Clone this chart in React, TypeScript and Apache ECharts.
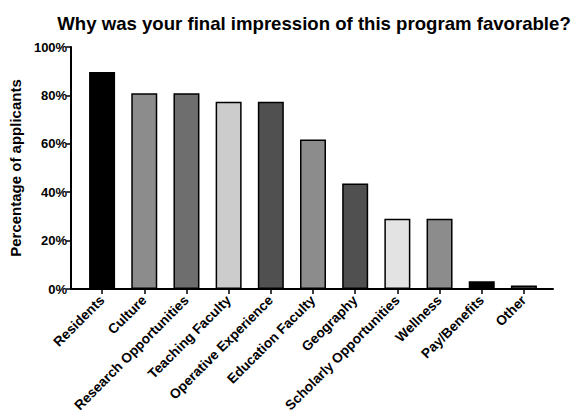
import React, { useEffect, useRef } from "react";
import * as echarts from "echarts";

const categories = [
  "Residents",
  "Culture",
  "Research Opportunities",
  "Teaching Faculty",
  "Operative Experience",
  "Education Faculty",
  "Geography",
  "Scholarly Opportunities",
  "Wellness",
  "Pay/Benefits",
  "Other",
];
const values = [89.7, 80.9, 80.9, 77.4, 77.4, 61.8, 43.6, 29.0, 29.0, 3.2, 1.4];
const barColors = [
  "#000000",
  "#8c8c8c",
  "#6e6e6e",
  "#cccccc",
  "#505050",
  "#8c8c8c",
  "#505050",
  "#e3e3e3",
  "#8c8c8c",
  "#000000",
  "#6e6e6e",
];
const yTicks = [0, 20, 40, 60, 80, 100];

const FONT = "'Liberation Sans', Arial, Helvetica, sans-serif";

export default function App() {
  const ref = useRef<HTMLDivElement>(null);
  useEffect(() => {
    if (!ref.current) return;
    const chart = echarts.init(ref.current, null, { renderer: "svg" });
    chart.setOption({
      animation: false,
      backgroundColor: "#ffffff",
      title: {
        text: "Why was your final impression of this program favorable?",
        left: 309,
        textAlign: "center",
        top: 9,
        textStyle: { fontFamily: FONT, fontSize: 18.6, fontWeight: "bold", color: "#000" },
      },
      grid: [
        { left: 70, right: 35, top: 47, bottom: 131 },
        { left: 81, right: 43, top: 47, bottom: 131 },
      ],
      xAxis: [
        {
          type: "category",
          gridIndex: 0,
          data: [""],
          axisLine: { show: true, lineStyle: { color: "#000", width: 2 } },
          axisTick: { show: false },
          axisLabel: { show: false },
          splitLine: { show: false },
        },
        {
          type: "category",
          gridIndex: 1,
          data: categories,
          axisLine: { show: false },
          axisTick: {
            show: true,
            alignWithLabel: true,
            length: 5,
            lineStyle: { color: "#000", width: 1.5 },
          },
          axisLabel: {
            interval: 0,
            rotate: 45,
            margin: 9,
            color: "#000",
            fontFamily: FONT,
            fontSize: 13.7,
            fontWeight: "bold",
          },
        },
      ],
      yAxis: [
        {
          type: "value",
          gridIndex: 0,
          min: yTicks[0],
          max: yTicks[yTicks.length - 1],
          interval: 20,
          name: "Percentage of applicants",
          nameLocation: "middle",
          nameGap: 34,
          nameRotate: 90,
          nameTextStyle: { fontFamily: FONT, fontSize: 15, fontWeight: "bold", color: "#000" },
          axisLine: { show: true, lineStyle: { color: "#000", width: 2 } },
          axisTick: { show: true, length: 5, lineStyle: { color: "#000", width: 1.5 } },
          axisLabel: {
            formatter: "{value}%",
            margin: 4,
            color: "#000",
            fontFamily: FONT,
            fontSize: 13,
            fontWeight: "bold",
          },
          splitLine: { show: false },
        },
        {
          type: "value",
          gridIndex: 1,
          min: 0,
          max: 100,
          show: false,
          splitLine: { show: false },
        },
      ],
      series: [
        {
          type: "bar",
          xAxisIndex: 1,
          yAxisIndex: 1,
          barWidth: 26,
          data: values.map((v, i) => ({
            value: v,
            itemStyle: { color: barColors[i] },
          })),
          itemStyle: { borderColor: "#000", borderWidth: 1.5 },
        },
      ],
    });
    return () => chart.dispose();
  }, []);
  return (
    <div
      ref={ref}
      style={{ position: "fixed", left: 0, top: 0, width: 588, height: 420, background: "#fff" }}
    />
  );
}
